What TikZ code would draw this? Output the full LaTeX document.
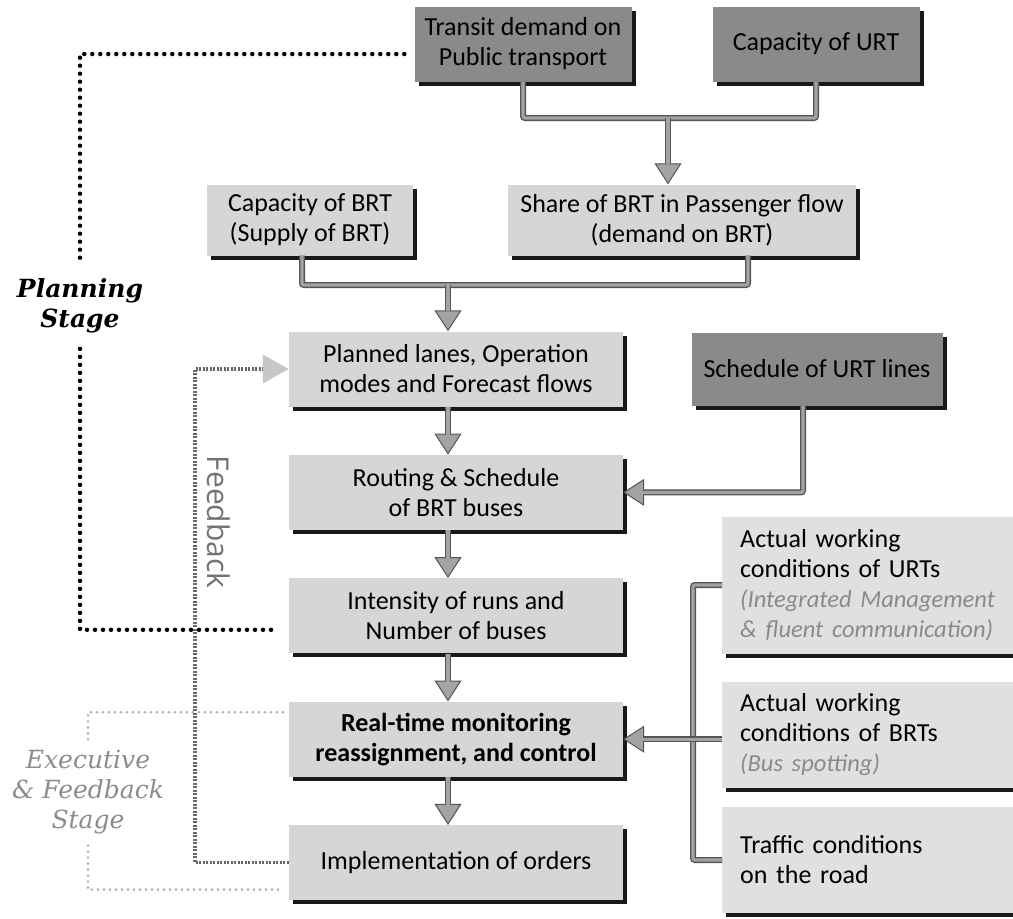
\documentclass[tikz,border=0pt]{standalone}
\usepackage{fontspec}
\setmainfont{Carlito}
\newfontfamily\stagefont{DejaVu Serif}
\newfontfamily\feedbackfont{Open Sans}
\usetikzlibrary{arrows.meta,positioning,shadows}
\definecolor{urtGray}{HTML}{8A8A8A}
\definecolor{brtGray}{HTML}{D6D6D6}
\definecolor{fieldGray}{HTML}{E0E0E0}
\definecolor{pipeGray}{HTML}{A3A3A3}
\definecolor{pipeEdge}{HTML}{555555}
\definecolor{noteGray}{HTML}{8A8A8A}
\newcommand{\boxfont}{\fontsize{26}{30}\selectfont}
\newcommand{\subnote}[1]{{\color{noteGray}\itshape\fontsize{24.5}{30}\selectfont #1}}

\begin{document}
\begin{tikzpicture}[
    x=1pt, y=-1pt,
    brtbox/.style={fill=brtGray, minimum width=334pt, minimum height=75pt, inner sep=3pt, align=center, font=\boxfont, drop shadow={shadow xshift=4pt, shadow yshift=-4pt, fill=black!90, opacity=1}},
    urtbox/.style={brtbox, fill=urtGray},
    fieldbox/.style={brtbox, fill=fieldGray, anchor=west, align=left, text width=298pt, inner xsep=18pt},
    pipe/.style={draw=pipeEdge, line width=6pt, rounded corners=2pt, postaction={draw=pipeGray, line width=3.2pt}},
    flow/.style={draw=pipeEdge, line width=6pt, rounded corners=2pt, -{Triangle[length=21pt, width=27pt, line width=1pt, fill=pipeGray]}, postaction={draw=pipeGray, line width=3.2pt, -, shorten >=20pt}},
    plandots/.style={draw=black, line width=4.5pt, line cap=round, dash pattern=on 0pt off 8pt},
    execdots/.style={draw=black!30, line width=3pt, line cap=round, dash pattern=on 0pt off 6pt},
    fbdots/.style={draw=black!60, line width=3.5pt, dash pattern=on 2pt off 1.5pt, -{Triangle[length=26pt, width=28pt, fill=black!22, color=black!22]}},
    stagebold/.style={align=center, font=\stagefont\bfseries\itshape\fontsize{25}{30}\selectfont},
    stagegray/.style={align=center, text=black!45, font=\stagefont\itshape\fontsize{25}{30}\selectfont}
  ]
    \path[use as bounding box, fill=white] (0,0) rectangle (1013,919);
    \clip (0,0) rectangle (1013,919);

    % Nodes
    \node[urtbox, minimum width=217pt] (transit) at (523,44) {Transit demand on\\Public transport};
    \node[urtbox, minimum width=207pt] (urt) at (816,44) {Capacity of URT};
    \node[brtbox, minimum width=206pt, minimum height=71pt] (capbrt) at (310,220) {Capacity of BRT\\(Supply of BRT)};
    \node[brtbox, minimum width=348pt, minimum height=71pt] (share) at (682,220) {Share of BRT in Passenger flow\\(demand on BRT)};

    \node[brtbox] (planned) at (456,369) {Planned lanes, Operation\\modes and Forecast flows};
    \node[brtbox, below=48pt of planned] (routing) {Routing \& Schedule\\of BRT buses};
    \node[brtbox, below=48pt of routing] (runs) {Intensity of runs and\\Number of buses};
    \node[brtbox, below=48pt of runs, font=\boxfont\bfseries] (monitor) {Real-time monitoring\\reassignment, and control};
    \node[brtbox, below=48pt of monitor] (orders) {Implementation of orders};
    \node[urtbox, minimum width=251pt, minimum height=73pt] (schedurt) at (817,369) {Schedule of URT lines};

    \node[fieldbox, minimum height=137pt] (urtwork) at (722,585) {Actual working\\conditions of URTs\\\subnote{(Integrated Management}\\\subnote{\& fluent communication)}};
    \node[fieldbox, minimum height=106pt] (brtwork) at (722,735) {Actual working\\conditions of BRTs\\\subnote{(Bus spotting)}};
    \node[fieldbox, minimum height=106pt] (traffic) at (722,860) {Traffic conditions\\on the road};

    \node[stagebold] (planning) at (80,306) {Planning\\Stage};
    \node[stagegray] (executive) at (88,792) {Executive\\\& Feedback\\Stage};
    \node[rotate=-90, text=black!55, font=\feedbackfont\fontsize{30}{36}\selectfont] (fbklabel) at (219,522) {Feedback};

    \coordinate (urtjoin) at (668,118);
    \coordinate (brtjoin) at (448,285);
    \coordinate (obsjoin) at (693,738);
    \coordinate (fbturn) at (195,600);

    % Edges
    \draw[pipe] (transit.south) |- (urtjoin) -| (urt.south);
    \draw[flow] (urtjoin) -- (urtjoin |- share.north);
    \draw[pipe] ([xshift=-8pt]capbrt.south) |- (brtjoin) -| ([xshift=66pt]share.south);
    \draw[flow] (brtjoin) -- (brtjoin |- planned.north);
    \draw[flow] ([xshift=-8pt]planned.south) -- ([xshift=-8pt]routing.north);
    \draw[flow] ([xshift=-8pt]routing.south) -- ([xshift=-8pt]runs.north);
    \draw[flow] ([xshift=-8pt]runs.south) -- ([xshift=-8pt]monitor.north);
    \draw[flow] ([xshift=-8pt]monitor.south) -- ([xshift=-8pt]orders.north);
    \draw[flow] ([xshift=-14pt]schedurt.south) |- (routing.east);
    \draw[pipe] (urtwork.west) -| (obsjoin) |- (traffic.west);
    \draw[flow] (brtwork.west |- monitor.east) -- (monitor.east);

    % Stages
    \draw[plandots, shorten <=10pt, shorten >=10pt] ([yshift=-10pt]transit.west) -| (planning.north);
    \draw[plandots, shorten <=12pt, shorten >=12pt] (planning.south) |- ([yshift=-14pt]runs.west);
    \draw[execdots, shorten <=6pt, shorten >=2pt] ([yshift=27pt]monitor.west) -| (executive.north);
    \draw[execdots, shorten <=8pt, shorten >=6pt] (executive.south) |- ([yshift=-27pt]orders.west);
    \draw[fbdots] (orders.west) -| (fbturn) |- (planned.west);
  \end{tikzpicture}
\end{document}
